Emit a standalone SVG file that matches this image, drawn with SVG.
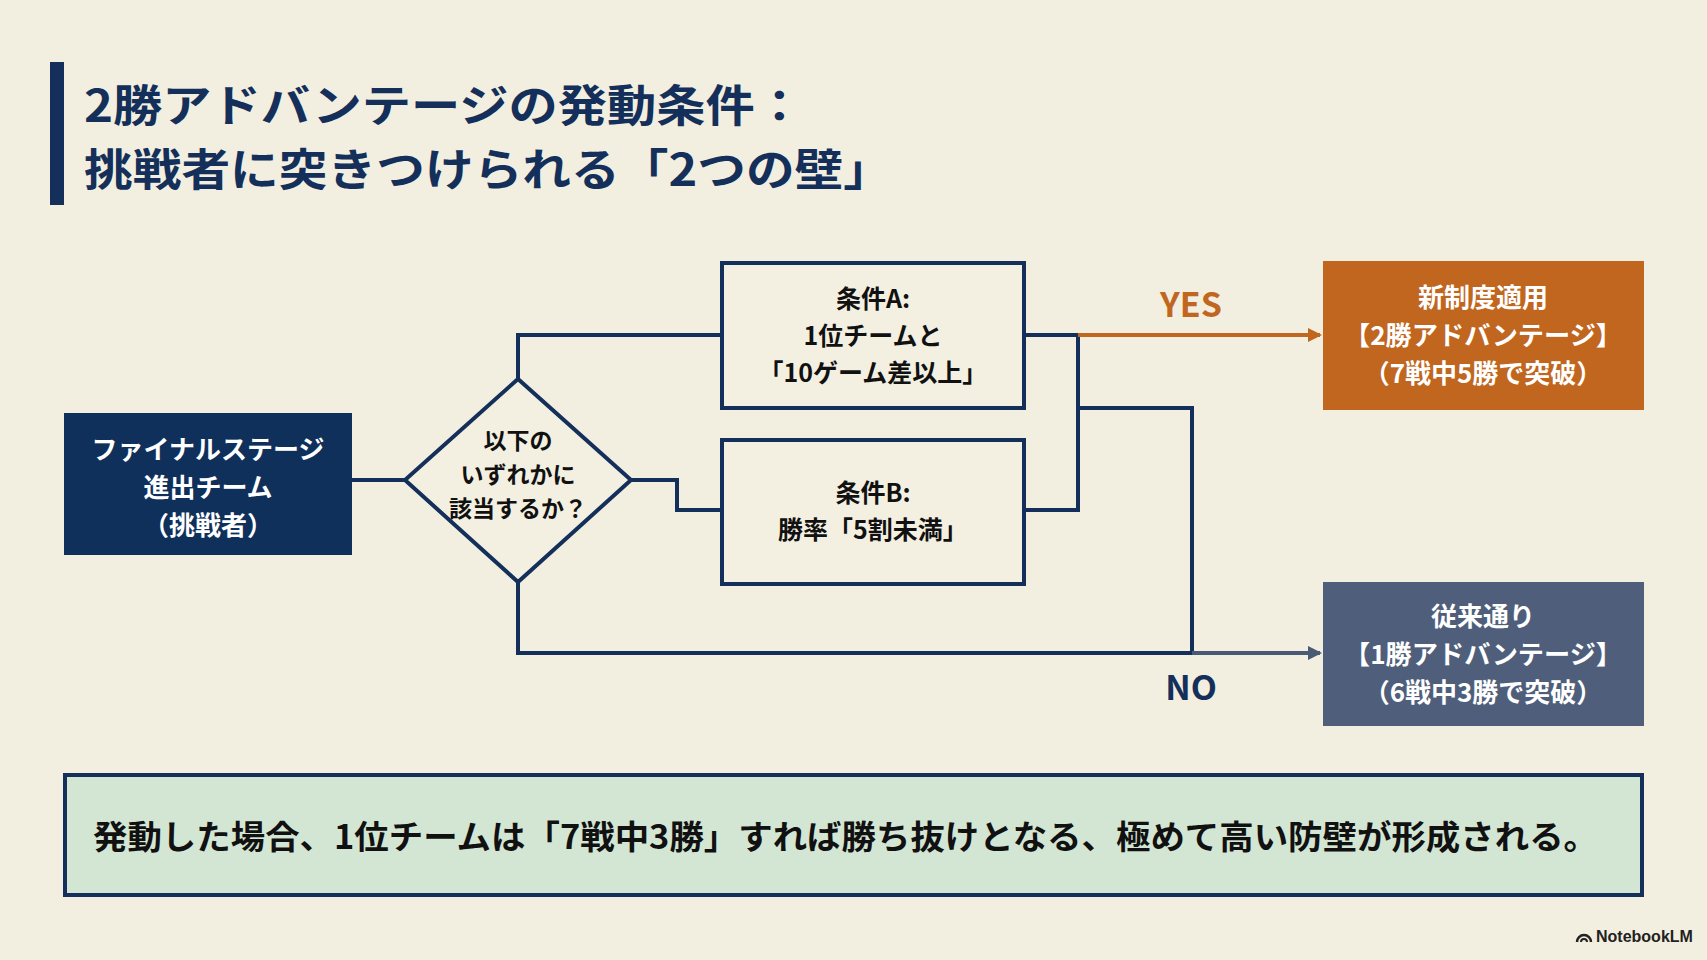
<svg xmlns="http://www.w3.org/2000/svg" width="1707" height="960" viewBox="0 0 1707 960">
<style>
  text { font-family: "Noto Sans CJK JP", "Noto Sans", sans-serif; font-weight: 700; text-anchor: middle; }
  .title { font-size: 44px; fill: #14305a; text-anchor: start; }
  .w { fill: #ffffff; font-size: 26px; }
  .w25 { fill: #ffffff; font-size: 25px; }
  .k { fill: #111111; font-size: 25px; }
  .kd { fill: #111111; font-size: 23px; }
  .line { fill: none; stroke: #14305a; stroke-width: 4; stroke-linejoin: miter; }
  .box { fill: #f3f0e2; stroke: #14305a; stroke-width: 4; }
</style>
<defs>
  <marker id="ao" markerWidth="14" markerHeight="14" refX="12" refY="7" orient="auto" markerUnits="userSpaceOnUse" viewBox="0 0 14 14">
    <path d="M0,0 L14,7 L0,14 z" fill="#c0661f"/>
  </marker>
  <marker id="as" markerWidth="14" markerHeight="14" refX="12" refY="7" orient="auto" markerUnits="userSpaceOnUse" viewBox="0 0 14 14">
    <path d="M0,0 L14,7 L0,14 z" fill="#4a5a75"/>
  </marker>
</defs>
<rect width="1707" height="960" fill="#f2efe0"/>

<g id="title">
  <rect x="50" y="62" width="14" height="143" fill="#14305a"/>
  <text class="title" x="84" y="122" textLength="720" lengthAdjust="spacingAndGlyphs">2勝アドバンテージの発動条件：</text>
  <text class="title" x="84" y="186" textLength="808" lengthAdjust="spacingAndGlyphs">挑戦者に突きつけられる「2つの壁」</text>
</g>

<g id="connectors">
  <path class="line" d="M352,480 L405,480"/>
  <path class="line" d="M518,379 L518,335 L722,335"/>
  <path class="line" d="M631,480 L677,480 L677,510 L722,510"/>
  <path class="line" d="M1024,335 L1078,335 L1078,510 L1024,510"/>
  <path class="line" d="M1078,408 L1192,408 L1192,653"/>
  <path class="line" d="M518,582 L518,653 L1192,653"/>
  <path d="M1078,335 L1320,335" fill="none" stroke="#c0661f" stroke-width="4" marker-end="url(#ao)"/>
  <path d="M1192,653 L1320,653" fill="none" stroke="#4a5a75" stroke-width="4" marker-end="url(#as)"/>
  <text x="1191" y="317" font-size="34" fill="#c0661f">YES</text>
  <text x="1191" y="700" font-size="34" fill="#14305a">NO</text>
</g>

<g id="start">
  <rect x="64" y="413" width="288" height="142" fill="#10305c"/>
  <text class="w" x="208" y="459">ファイナルステージ</text>
  <text class="w" x="208" y="497">進出チーム</text>
  <text class="w" x="208" y="535">（挑戦者）</text>
</g>

<g id="decision">
  <path d="M518,379 L631,480 L518,582 L405,480 Z" fill="#f3f0e2" stroke="#14305a" stroke-width="4"/>
  <text class="kd" x="518" y="449">以下の</text>
  <text class="kd" x="518" y="483">いずれかに</text>
  <text class="kd" x="518" y="517">該当するか？</text>
</g>

<g id="condA">
  <rect class="box" x="722" y="263" width="302" height="145"/>
  <text class="k" x="873" y="308">条件A:</text>
  <text class="k" x="873" y="345">1位チームと</text>
  <text class="k" x="873" y="382">「10ゲーム差以上」</text>
</g>

<g id="condB">
  <rect class="box" x="722" y="440" width="302" height="144"/>
  <text class="k" x="873" y="502">条件B:</text>
  <text class="k" x="873" y="539">勝率「5割未満」</text>
</g>

<g id="yesResult">
  <rect x="1323" y="261" width="321" height="149" fill="#c0661f"/>
  <text class="w" x="1483" y="307">新制度適用</text>
  <text class="w" x="1483" y="345" textLength="278" lengthAdjust="spacingAndGlyphs">【2勝アドバンテージ】</text>
  <text class="w" x="1483" y="383">（7戦中5勝で突破）</text>
</g>

<g id="noResult">
  <rect x="1323" y="582" width="321" height="144" fill="#4f5f7b"/>
  <text class="w" x="1483" y="626">従来通り</text>
  <text class="w" x="1483" y="664" textLength="278" lengthAdjust="spacingAndGlyphs">【1勝アドバンテージ】</text>
  <text class="w" x="1483" y="702">（6戦中3勝で突破）</text>
</g>

<g id="note">
  <rect x="65" y="775" width="1577" height="120" fill="#d3e6d4" stroke="#14305a" stroke-width="4"/>
  <text x="93" y="849" font-size="33" fill="#111111" style="text-anchor:start" textLength="1505" lengthAdjust="spacingAndGlyphs">発動した場合、1位チームは「7戦中3勝」すれば勝ち抜けとなる、極めて高い防壁が形成される。</text>
</g>

<g id="watermark">
  <path d="M1577,942 a7,7 0 0 1 14,0" fill="none" stroke="#222" stroke-width="2.5"/>
  <path d="M1581,942 a3,3 0 0 1 6,0" fill="none" stroke="#222" stroke-width="2"/>
  <text x="1596" y="942" font-size="16" fill="#222" style="text-anchor:start; font-family:'Liberation Sans', sans-serif">NotebookLM</text>
</g>
</svg>
